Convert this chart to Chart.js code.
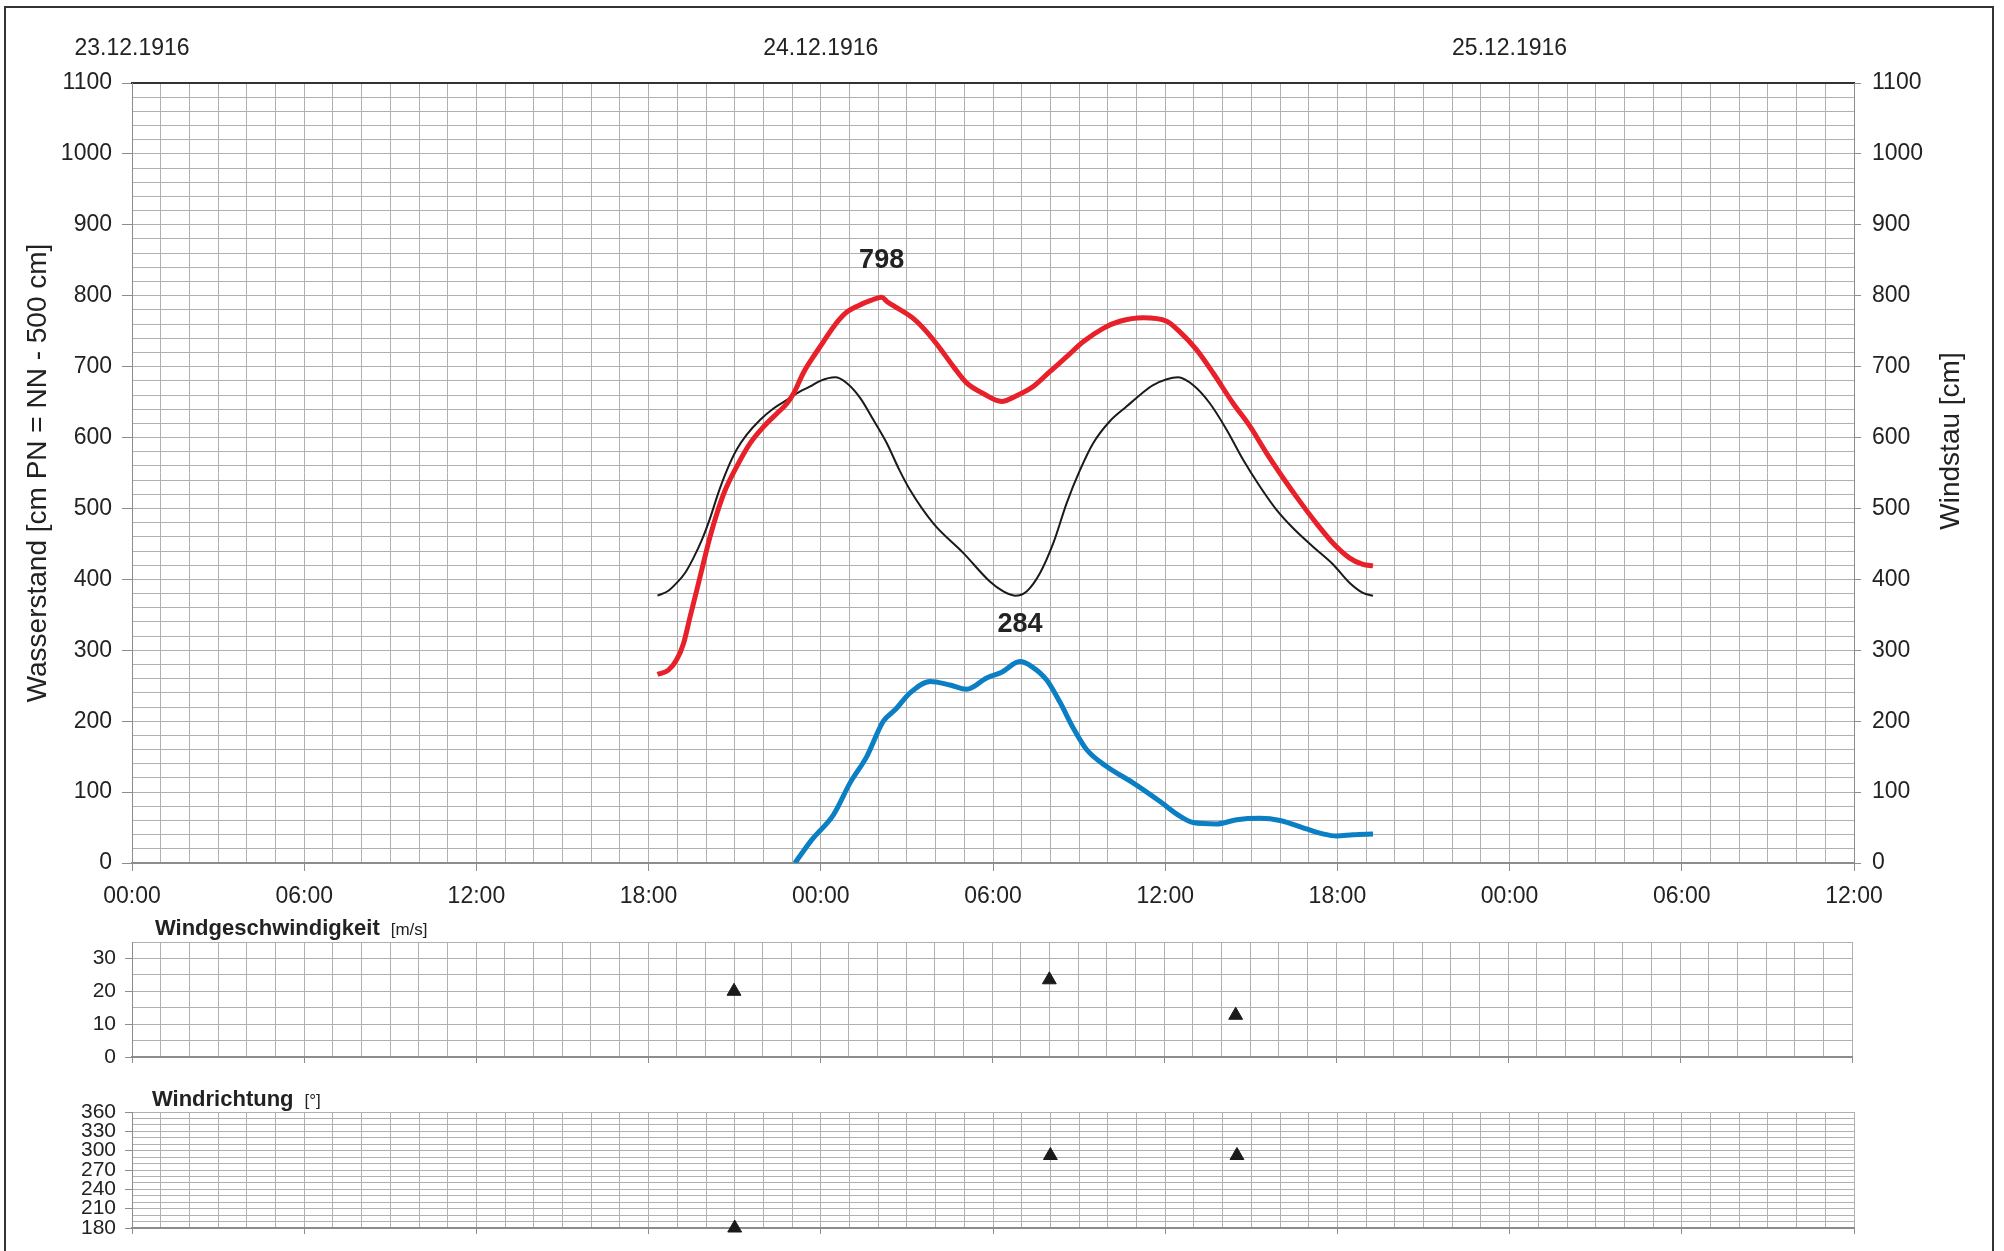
<!DOCTYPE html>
<html lang="de">
<head>
<meta charset="UTF-8">
<title>Sturmflut 23.-25.12.1916</title>
<script src="https://cdn.jsdelivr.net/npm/chart.js"></script>
<style>
  body { margin: 0; background: #fff; }
  #blatt { position: relative; width: 2004px; height: 1251px; overflow: hidden; background: #fff; }
  #rahmen { position: absolute; left: 4px; top: 6px; width: 1990px; height: 1300px; border: 2px solid #333; box-sizing: border-box; }
  canvas { position: absolute; left: 0; }
  #wasserstand { top: 0; }
  #windgeschw { top: 900px; }
  #windricht { top: 1070px; }
</style>
</head>
<body>
<div id="blatt">
  <div id="rahmen"></div>
  <canvas id="wasserstand" width="2004" height="930"></canvas>
  <canvas id="windgeschw" width="2004" height="180"></canvas>
  <canvas id="windricht" width="2004" height="181"></canvas>
</div>
<script>
// Zeit in Stunden ab 23.12.1916 00:00

// gemessener Wasserstand (rot)
const pegelZeit = [18.31, 18.69, 18.98, 19.22, 19.45, 19.68, 19.91, 20.14, 20.38, 20.67, 21.07, 21.54, 22.00, 22.47, 22.82, 23.05, 23.39, 23.74, 24.09, 24.44, 24.85, 25.31, 25.72, 26.12, 26.30, 26.53, 27.22, 27.69, 28.15, 28.62, 29.08, 29.66, 30.30, 30.82, 31.40, 31.98, 32.57, 33.14, 33.84, 34.42, 35.23, 36.05, 36.51, 37.09, 37.67, 38.37, 38.95, 39.53, 40.11, 40.69, 41.27, 41.85, 42.43, 42.89, 43.24];
const pegelWert = [266, 272, 287, 310, 348, 385, 423, 460, 493, 526, 559, 592, 615, 634, 648, 662, 691, 714, 735, 756, 775, 786, 793, 798, 792, 786, 768, 749, 726, 700, 677, 662, 651, 659, 672, 693, 714, 735, 754, 764, 769, 764, 749, 724, 691, 648, 616, 578, 543, 510, 479, 451, 430, 421, 419];

// Tidekurve (schwarz)
const tideZeit = [18.31, 18.69, 18.98, 19.27, 19.56, 19.86, 20.14, 20.43, 20.73, 21.07, 21.42, 21.89, 22.35, 22.82, 23.28, 23.63, 23.98, 24.50, 24.90, 25.37, 25.83, 26.30, 26.74, 27.11, 27.92, 28.97, 29.89, 30.36, 30.77, 31.17, 31.64, 32.10, 32.57, 33.03, 33.49, 34.07, 34.66, 35.12, 35.58, 36.45, 36.97, 37.56, 38.14, 38.71, 39.30, 39.88, 40.46, 41.15, 41.85, 42.43, 42.89, 43.24];
const tideWert = [377, 384, 395, 409, 430, 456, 486, 522, 554, 583, 604, 625, 641, 653, 665, 672, 680, 685, 677, 656, 625, 592, 554, 526, 479, 437, 397, 383, 377, 383, 409, 451, 508, 554, 592, 623, 644, 660, 674, 685, 674, 648, 611, 569, 531, 498, 472, 446, 421, 395, 381, 377];

// Windstau (blau)
const stauZeit = [23.10, 23.69, 24.44, 25.02, 25.60, 26.18, 26.59, 27.11, 27.81, 28.50, 29.08, 29.78, 30.30, 30.94, 31.35, 31.87, 32.33, 32.80, 33.26, 33.96, 34.88, 35.81, 36.51, 36.97, 37.79, 38.49, 39.30, 40.00, 40.92, 41.50, 41.97, 42.55, 43.24];
const stauWert = [0, 33, 68, 113, 150, 200, 216, 240, 256, 251, 245, 261, 269, 284, 277, 258, 227, 190, 160, 136, 113, 87, 66, 57, 55, 61, 63, 60, 48, 41, 38, 40, 41];

// Windbeobachtungen
const windZeit = [21, 32, 38.5];
const windGeschw = [20, 23.5, 12.7];
const windRichtung = [180, 292.5, 292.5];

const zeitLabels = ['00:00', '06:00', '12:00', '18:00'];
const datumStunden = [0, 24, 48];
const datumLabels = ['23.12.1916', '24.12.1916', '25.12.1916'];

const schrift = "'Liberation Sans', Arial, sans-serif";
Chart.defaults.font.family = schrift;
Chart.defaults.color = '#222';
Chart.defaults.animation = false;

const gitter = '#b0b0b0';
const achse = '#8c8c8c';
const ohne = 'rgba(0,0,0,0)';

const punkte = (xs, ys) => xs.map((x, i) => ({ x: x, y: ys[i] }));
function folge(von, bis, schritt) {
  const a = [];
  for (let v = von; v <= bis + 1e-9; v += schritt) a.push(Math.round(v * 1000) / 1000);
  return a;
}
const festeTicks = werte => scale => { scale.ticks = werte.map(v => ({ value: v })); };

function zeitAchse(mitLabels) {
  return {
    type: 'linear', position: 'bottom', min: 0, max: 60,
    afterBuildTicks: festeTicks(folge(0, 60, 1)),
    afterFit: s => { s.height = mitLabels ? 67 : 23; },
    border: { color: achse, width: 2 },
    grid: {
      color: gitter,
      tickLength: mitLabels ? 8 : 6,
      tickColor: c => (c.tick && c.tick.value % 6 === 0) ? achse : ohne
    },
    ticks: {
      display: mitLabels, autoSkip: false, maxRotation: 0, padding: 12,
      font: { size: 23 },
      callback: v => v % 6 === 0 ? zeitLabels[(v % 24) / 6] : ''
    }
  };
}

// Zahl über dem Höchstwert einer Kurve
const spitzenWert = {
  id: 'spitzenWert',
  afterDatasetsDraw(chart) {
    const ctx = chart.ctx;
    chart.data.datasets.forEach((ds, i) => {
      if (!ds.spitzeBeschriften) return;
      const werte = ds.data.map(p => p.y);
      const k = werte.indexOf(Math.max(...werte));
      const el = chart.getDatasetMeta(i).data[k];
      ctx.save();
      ctx.font = 'bold 27px ' + schrift;
      ctx.fillStyle = '#222';
      ctx.textAlign = 'center';
      ctx.textBaseline = 'middle';
      ctx.fillText(String(werte[k]), el.x, el.y - 37);
      ctx.restore();
    });
  }
};

// rechte Achsenbeschriftung, von unten nach oben lesbar
const rechterTitel = {
  id: 'rechterTitel',
  afterDraw(chart, args, o) {
    const ctx = chart.ctx;
    ctx.save();
    ctx.translate(o.x, o.y);
    ctx.rotate(-Math.PI / 2);
    ctx.font = '28px ' + schrift;
    ctx.fillStyle = '#222';
    ctx.textAlign = 'center';
    ctx.textBaseline = 'middle';
    ctx.fillText(o.text, 0, 0);
    ctx.restore();
  }
};

// Überschrift der Windfelder: fetter Name plus Einheit
const panelTitel = {
  id: 'panelTitel',
  afterDraw(chart, args, o) {
    const ctx = chart.ctx;
    ctx.save();
    ctx.fillStyle = '#222';
    ctx.textBaseline = 'middle';
    ctx.font = 'bold 22px ' + schrift;
    ctx.fillText(o.text, o.x, o.y);
    const w = ctx.measureText(o.text).width;
    ctx.font = '17px ' + schrift;
    ctx.fillText(o.einheit, o.x + w + 11, o.y + 1);
    ctx.restore();
  }
};

const kurve = {
  xAxisID: 'x', pointRadius: 0, fill: false,
  cubicInterpolationMode: 'monotone'
};

new Chart(document.getElementById('wasserstand'), {
  type: 'line',
  data: {
    datasets: [
      Object.assign({}, kurve, { label: 'Wasserstand', data: punkte(pegelZeit, pegelWert), yAxisID: 'y', borderColor: '#e8202a', borderWidth: 5, spitzeBeschriften: true }),
      Object.assign({}, kurve, { label: 'Tide', data: punkte(tideZeit, tideWert), yAxisID: 'y', borderColor: '#1a1a1a', borderWidth: 2 }),
      Object.assign({}, kurve, { label: 'Windstau', data: punkte(stauZeit, stauWert), yAxisID: 'y2', borderColor: '#0a7fc4', borderWidth: 5, spitzeBeschriften: true })
    ]
  },
  options: {
    responsive: false,
    events: [],
    layout: { padding: 0 },
    plugins: {
      legend: { display: false },
      tooltip: { enabled: false },
      rechterTitel: { text: 'Windstau [cm]', x: 1951, y: 441 }
    },
    scales: {
      x: zeitAchse(true),
      xDatum: {
        type: 'linear', position: 'top', min: 0, max: 60, z: 1,
        afterBuildTicks: festeTicks(datumStunden),
        afterFit: s => { s.height = 83; },
        border: { color: '#333', width: 2 },
        grid: { display: false, drawTicks: false },
        ticks: { autoSkip: false, maxRotation: 0, padding: 21, font: { size: 23 }, callback: (v, i) => datumLabels[i] }
      },
      y: {
        position: 'left', min: 0, max: 1100,
        afterBuildTicks: festeTicks(folge(0, 1100, 20)),
        afterFit: s => { s.width = 132; },
        border: { color: achse },
        grid: { color: gitter, tickLength: 10, tickColor: c => (c.tick && c.tick.value % 100 === 0) ? achse : ohne },
        ticks: { autoSkip: false, padding: 10, font: { size: 23 }, callback: v => v % 100 === 0 ? String(v) : '' },
        title: { display: true, text: 'Wasserstand [cm PN = NN - 500 cm]', font: { size: 28 }, color: '#222', padding: { top: 21, bottom: 0 } }
      },
      y2: {
        position: 'right', min: 0, max: 1100,
        afterBuildTicks: festeTicks(folge(0, 1100, 100)),
        afterFit: s => { s.width = 150; },
        border: { color: achse },
        grid: { drawOnChartArea: false, tickLength: 7, tickColor: achse },
        ticks: { autoSkip: false, padding: 11, font: { size: 23 }, callback: v => String(v) }
      }
    }
  },
  plugins: [spitzenWert, rechterTitel]
});

function windFeld(id, werte, bereich, schritt, labelSchritt, rechts, titel) {
  return new Chart(document.getElementById(id), {
    type: 'line',
    data: {
      datasets: [{
        data: punkte(windZeit, werte), xAxisID: 'x', yAxisID: 'y',
        showLine: false, clip: false,
        pointStyle: 'triangle', pointRadius: 8,
        backgroundColor: '#1a1a1a', borderColor: '#1a1a1a', borderWidth: 1
      }]
    },
    options: {
      responsive: false,
      events: [],
      layout: { padding: { top: 42, right: rechts, left: 0, bottom: 0 } },
      plugins: { legend: { display: false }, tooltip: { enabled: false }, panelTitel: titel },
      scales: {
        x: zeitAchse(false),
        y: {
          min: bereich[0], max: bereich[1],
          afterBuildTicks: festeTicks(folge(bereich[0], bereich[1], schritt)),
          afterFit: s => { s.width = 132; },
          border: { color: achse },
          grid: { color: gitter, tickLength: 7, tickColor: c => (c.tick && c.tick.value % labelSchritt === 0) ? achse : ohne },
          ticks: { autoSkip: false, padding: 9, font: { size: 21 }, callback: v => v % labelSchritt === 0 ? String(v) : '' }
        }
      }
    },
    plugins: [panelTitel]
  });
}

windFeld('windgeschw', windGeschw, [0, 35], 5, 10, 152, { text: 'Windgeschwindigkeit', einheit: '[m/s]', x: 155, y: 29 });
windFeld('windricht', windRichtung, [180, 360], 10, 30, 150, { text: 'Windrichtung', einheit: '[°]', x: 152, y: 30 });
</script>
</body>
</html>
